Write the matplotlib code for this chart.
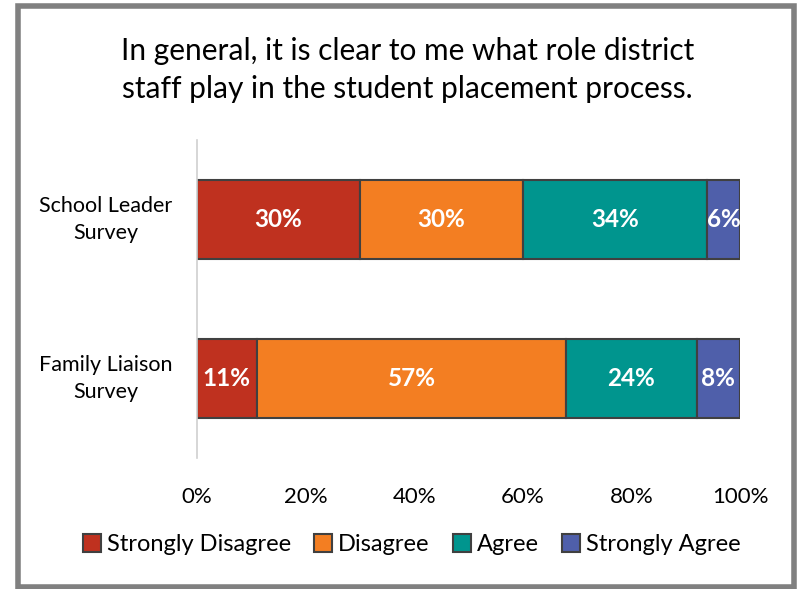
import matplotlib
matplotlib.use("Agg")
from matplotlib import pyplot as plt
from matplotlib.patches import Rectangle

plt.rcParams['font.family'] = ['Lato', 'DejaVu Sans']

categories = ['School Leader\nSurvey', 'Family Liaison\nSurvey']
responses = ['Strongly Disagree', 'Disagree', 'Agree', 'Strongly Agree']
values = {
    'Strongly Disagree': [30, 11],
    'Disagree': [30, 57],
    'Agree': [34, 24],
    'Strongly Agree': [6, 8],
}
colors = ['#BF311F', '#F37E22', '#00958E', '#4F5FAA']

fig = plt.figure(figsize=(7.98, 5.89), dpi=100)
ax = fig.add_axes([0.2469, 0.2224, 0.6804, 0.5399])

y = [1.5, 0.5]
left = [0, 0]
for name, color in zip(responses, colors):
    vals = values[name]
    bars = ax.barh(y, vals, left=left, height=0.5, color=color,
                   edgecolor='#404040', linewidth=1.5, label=name)
    for b, v in zip(bars, vals):
        ax.text(b.get_x() + b.get_width() / 2, b.get_y() + b.get_height() / 2,
                f'{v}%', ha='center', va='center', color='white',
                fontsize=17.5, fontweight='bold')
    left = [l + v for l, v in zip(left, vals)]

ax.set_xlim(0, 100)
ax.set_ylim(0, 2)
ax.set_yticks(y)
ax.set_yticklabels(categories, fontsize=15.5, ha='center', va='center', linespacing=1.45)
ax.tick_params(axis='y', length=0, pad=66)
ax.set_xticks([0, 20, 40, 60, 80, 100])
ax.set_xticklabels(['0%', '20%', '40%', '60%', '80%', '100%'], fontsize=16)
ax.tick_params(axis='x', length=0, pad=21)
for s in ['top', 'right', 'bottom']:
    ax.spines[s].set_visible(False)
ax.spines['left'].set_color('#d0d0d0')
ax.spines['left'].set_linewidth(1.2)

fig.text(0.511, 0.881, 'In general, it is clear to me what role district\nstaff play in the student placement process.',
         ha='center', va='center', fontsize=21.5, linespacing=1.4)

fig.legend(loc='center', bbox_to_anchor=(0.516, 0.075), ncol=4, frameon=False,
           fontsize=17, handlelength=0.75, handleheight=0.8, handletextpad=0.25,
           columnspacing=1.0)

fig.patches.append(Rectangle((0.022, 0.004), 0.973, 0.986, transform=fig.transFigure,
                             fill=False, edgecolor='#808080', linewidth=4))

fig.savefig('out.png', dpi=100)
